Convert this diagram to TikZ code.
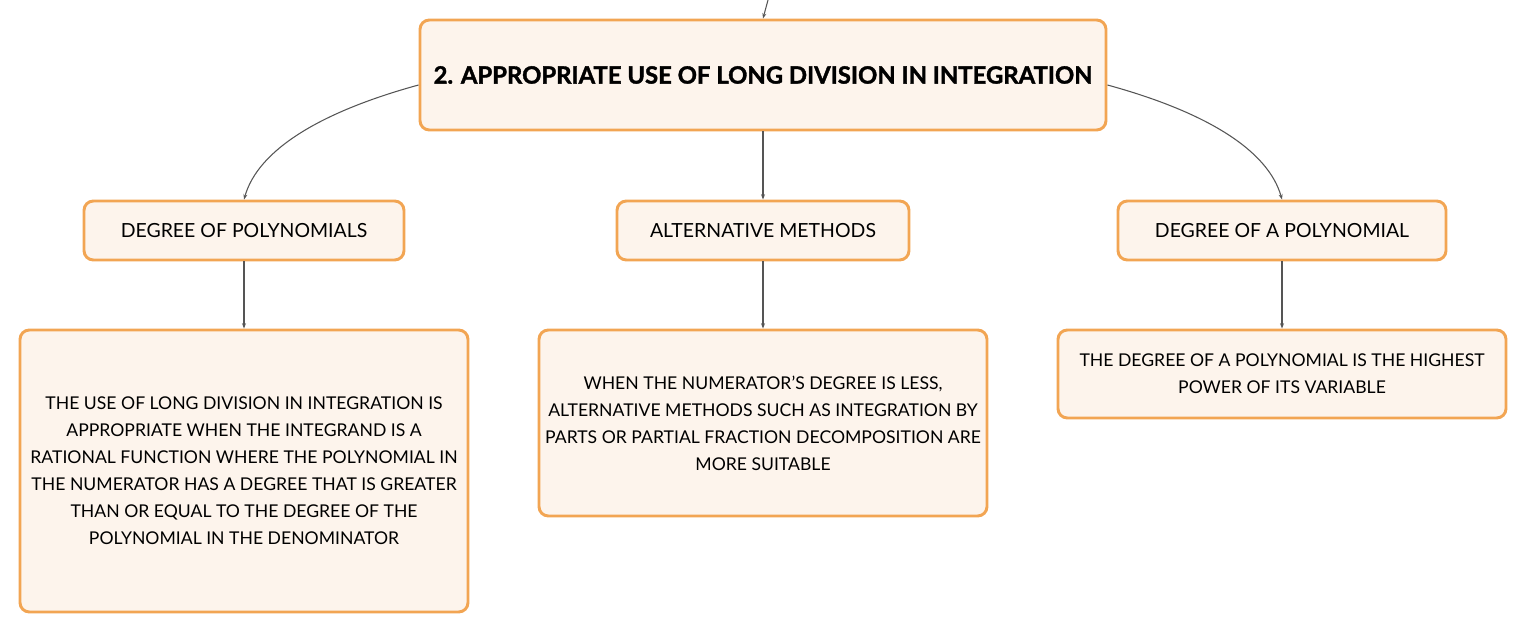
\documentclass[tikz,border=0pt]{standalone}
\usepackage{fontspec}
\setmainfont{Lato}
\usetikzlibrary{arrows.meta}
\definecolor{boxborder}{HTML}{F2A553}
\definecolor{boxfill}{HTML}{FDF4EC}
\definecolor{linkcol}{HTML}{555555}
\tikzset{
  box/.style={draw=boxborder, fill=boxfill, line width=2.2pt, rounded corners=7pt, inner sep=0pt, align=center, font=\fontsize{13.2}{20.2}\selectfont},
  label/.style={font=\fontsize{14.6}{18}\selectfont},
  link/.style={draw=linkcol, line width=0.8pt, -{Stealth[length=4pt,width=3pt]}},
}
\begin{document}
\begin{tikzpicture}[x=0.75pt,y=-0.75pt]
\useasboundingbox (0,0) rectangle (1527,634);
% boxes (px coordinates)
\node[box, minimum width=686*0.75pt, minimum height=110*0.75pt, font=\fontsize{17.9}{20}\selectfont\bfseries\addfontfeature{FakeBold=1.5}] (top) at (763,75) {2. APPROPRIATE USE OF LONG DIVISION IN INTEGRATION};
\node[box, label, minimum width=320*0.75pt, minimum height=59*0.75pt] (a) at (244,230.5) {DEGREE OF POLYNOMIALS};
\node[box, label, minimum width=292*0.75pt, minimum height=59*0.75pt] (b) at (763,230.5) {ALTERNATIVE METHODS};
\node[box, label, minimum width=328*0.75pt, minimum height=59*0.75pt] (c) at (1282,230.5) {DEGREE OF A POLYNOMIAL};
\node[box, minimum width=448*0.75pt, minimum height=282*0.75pt] (d) at (244,471) {THE USE OF LONG DIVISION IN INTEGRATION IS\\APPROPRIATE WHEN THE INTEGRAND IS A\\RATIONAL FUNCTION WHERE THE POLYNOMIAL IN\\THE NUMERATOR HAS A DEGREE THAT IS GREATER\\THAN OR EQUAL TO THE DEGREE OF THE\\POLYNOMIAL IN THE DENOMINATOR};
\node[box, minimum width=448*0.75pt, minimum height=186*0.75pt] (e) at (763,423) {WHEN THE NUMERATOR'S DEGREE IS LESS,\\ALTERNATIVE METHODS SUCH AS INTEGRATION BY\\PARTS OR PARTIAL FRACTION DECOMPOSITION ARE\\MORE SUITABLE};
\node[box, minimum width=448*0.75pt, minimum height=88*0.75pt] (f) at (1282,374) {THE DEGREE OF A POLYNOMIAL IS THE HIGHEST\\POWER OF ITS VARIABLE};
% connectors
\coordinate (in) at (768,0);
\draw[link] (in) -- (top.north);
\draw[link] ([yshift=-10*0.75pt]top.west) .. controls (320,112) and (258,150) .. (a.north);
\draw[link] ([yshift=-10*0.75pt]top.east) .. controls (1206,112) and (1268,150) .. (c.north);
\draw[link] (top.south) -- (b.north);
\draw[link] (a.south) -- (d.north);
\draw[link] (b.south) -- (e.north);
\draw[link] (c.south) -- (f.north);
\end{tikzpicture}
\end{document}
